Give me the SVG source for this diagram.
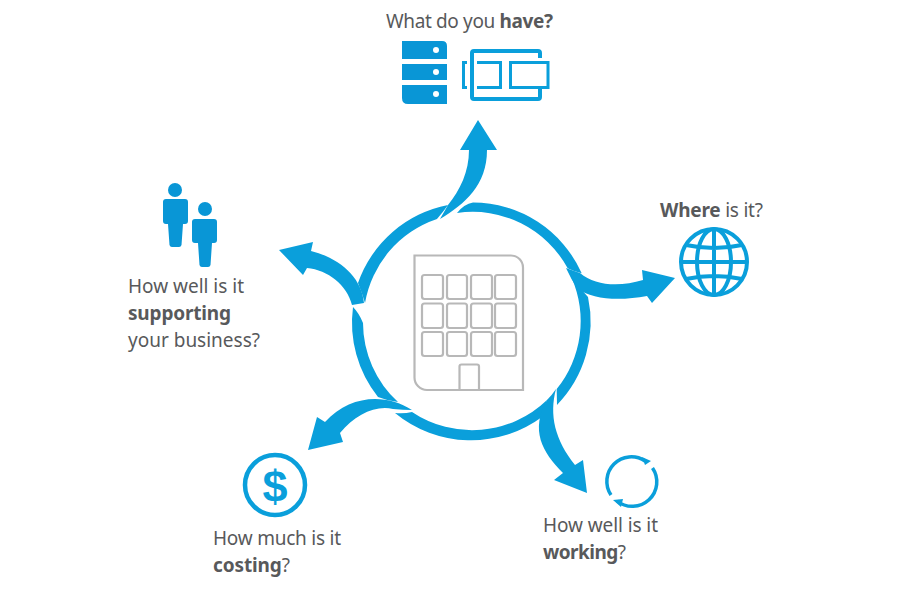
<svg xmlns="http://www.w3.org/2000/svg" width="909" height="609" viewBox="0 0 909 609">
<style>
.b{fill:#0a9fdb}
.i{fill:#0996d6}
.l{fill:none;stroke:#0a9fdb}
.g{fill:none;stroke:#b8b8b8;stroke-width:2.2}
text{font-family:"Noto Sans","Open Sans",sans-serif;font-size:19px;fill:#58595b}
.s{font-weight:700}
</style>
<rect width="909" height="609" fill="#fff"/>
<g id="connectors">
<path class="b" d="M457 213A108 108 0 0 1 567.7 268.3Q575 272 581.7 273.3A119.5 119.5 0 0 0 473 202.500Q464 204 457 213Z"/>
<path class="b" d="M571.700 278A108 108 0 0 1 556.700 389L557 405A119.500 119.500 0 0 0 588 297Q580 288 571.700 278Z"/>
<path class="b" d="M547 400A108 108 0 0 1 412 412Q404 414 395 413A119.500 119.500 0 0 0 542 417Q544 408 547 400Z"/>
<path class="b" d="M398 402A108 108 0 0 1 363 323Q359 313 353 307A119.500 119.500 0 0 0 378 397Q388 401 398 402Z"/>
<path class="b" d="M365 303A108 108 0 0 1 437 219Q443 212 448 205A119.500 119.500 0 0 0 358 283Q362 293 365 303Z"/>
<path class="b" d="M440 219C465 204 487 185 487 150L497 150L478 120L460 150L469 150C469 172 460 190 448 205Q444 212 440 219Z"/>
<path class="b" d="M566 268Q574 271 580 273C595 286 620 287 643 280L642 270L675 278L652 303L647 296C620 301 592 300 577 288Q571 279 566 268Z"/>
<path class="b" d="M556 389C549 415 555 440 575 465L583 460L587 493L554 480L563 473C542 452 530 430 547 400Q552 395 556 389Z"/>
<path class="b" d="M412 410C385 393 350 395 325 422L317 417L308 450L343 442L340 433C355 415 375 405 393 409Q403 410 412 410Z"/>
<path class="b" d="M364 303C362 278 340 258 311 251L313 242L279 250L303 275L307 268C328 270 347 285 352 305Q358 304 364 303Z"/>
</g>
<g id="building">
<path class="g" d="M414.500 255.500H511A12 12 0 0 1 523 267.500V390H427A12.500 12.500 0 0 1 414.500 377.500Z"/>
<g>
<rect class="g" x="422" y="275" width="21" height="24" rx="2.500"/><rect class="g" x="447" y="275" width="20" height="24" rx="2.500"/><rect class="g" x="471" y="275" width="21" height="24" rx="2.500"/><rect class="g" x="495" y="275" width="21" height="24" rx="2.500"/>
<rect class="g" x="422" y="303.500" width="21" height="24.500" rx="2.500"/><rect class="g" x="447" y="303.500" width="20" height="24.500" rx="2.500"/><rect class="g" x="471" y="303.500" width="21" height="24.500" rx="2.500"/><rect class="g" x="495" y="303.500" width="21" height="24.500" rx="2.500"/>
<rect class="g" x="422" y="332" width="21" height="24" rx="2.500"/><rect class="g" x="447" y="332" width="20" height="24" rx="2.500"/><rect class="g" x="471" y="332" width="21" height="24" rx="2.500"/><rect class="g" x="495" y="332" width="21" height="24" rx="2.500"/>
</g>
<path class="g" d="M459.500 389V366.500Q459.500 364.500 461.500 364.500H477Q479 364.500 479 366.500V389"/>
</g>
<g id="what">
<text x="386" y="28" textLength="167">What do you <tspan class="s">have?</tspan></text>
<path class="i" d="M402 41H442Q447 41 447 46V59H402ZM402 64H447V80H402ZM402 85H447V104H408Q402 104 402 98Z"/>
<circle cx="436" cy="50" r="3" fill="#fff"/><circle cx="436" cy="72" r="3" fill="#fff"/><circle cx="436" cy="94" r="3" fill="#fff"/>
<path class="l" stroke-width="4" d="M540 58V53Q540 51 538 51H474Q472 51 472 53V97Q472 99 474 99H538Q540 99 540 97V89"/>
<path class="l" stroke-width="3" d="M467 62.500H463.500V87.500H467M477 62.500H500.500V87.500H477M510.500 62.500H548V87.500H510.500Z"/>
</g>
<g id="where">
<text x="660" y="217" textLength="103"><tspan class="s">Where</tspan> is it?</text>
<g class="l" stroke-width="4">
<circle cx="714" cy="262" r="33"/>
<ellipse cx="714" cy="262" rx="17" ry="33"/>
<path d="M714 229V295M681 262H747M686 245Q714 251 742 245M686 279Q714 273 742 279"/>
</g>
</g>
<g id="working">
<text x="543" y="532" textLength="115">How well is it</text>
<text x="543" y="559" textLength="83"><tspan class="s">working</tspan>?</text>
<g class="l" stroke-width="3.500">
<path d="M611 495A24.500 24.500 0 0 1 645 461"/>
<path d="M652.500 468A24.500 24.500 0 0 1 617 501"/>
</g>
<path class="b" d="M642 457L651 461L645 465ZM613 500L623 499L621 507Z"/>
</g>
<g id="costing">
<circle class="l" stroke-width="4.500" cx="275" cy="485" r="30"/>
<text x="275" y="502" text-anchor="middle" style="font-family:'Liberation Sans',sans-serif;font-size:45px;font-weight:700;fill:#0a9fdb">$</text>
<text x="213" y="545" textLength="128">How much is it</text>
<text x="213" y="572" textLength="77"><tspan class="s">costing</tspan>?</text>
</g>
<g id="supporting">
<g class="i">
<circle cx="175" cy="190" r="7"/>
<path d="M166 199H185Q188 199 188 202V221Q188 224 185 224H183L181.500 245Q181 247 179 247H172Q170 247 169.500 245L168 224H166Q163 224 163 221V202Q163 199 166 199Z"/>
<circle cx="205" cy="209" r="7"/>
<path d="M195 219H214Q217 219 217 222V240Q217 243 214 243H212L210.500 265Q210 267 208 267H202Q200 267 199.500 265L198 243H195Q192 243 192 240V222Q192 219 195 219Z"/>
</g>
<text x="128" y="293" textLength="116">How well is it</text>
<text x="128" y="320" class="s" textLength="103">supporting</text>
<text x="128" y="347" textLength="132">your business?</text>
</g>
</svg>
